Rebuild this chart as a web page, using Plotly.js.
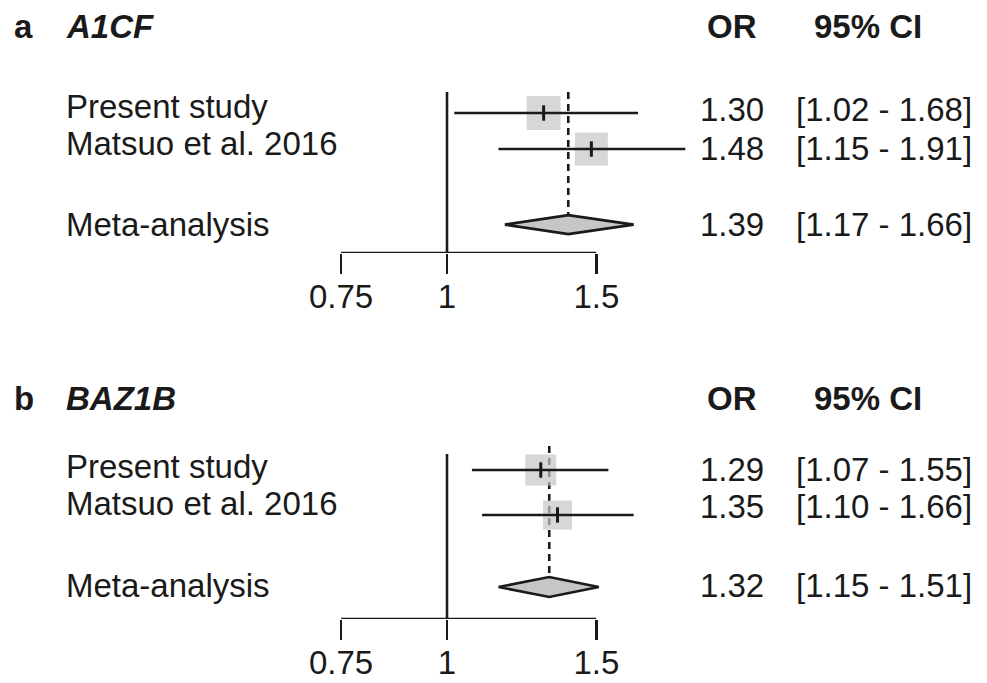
<!DOCTYPE html>
<html>
<head>
<meta charset="utf-8">
<script src="https://cdn.plot.ly/plotly-3.0.1.min.js"></script>
<style>html,body{margin:0;padding:0;background:#fff;}#chart{width:987px;height:683px;}</style>
</head>
<body>
<div id="chart"></div>
<script>
// ---- data ----
const studies = ['Present study', 'Matsuo et al. 2016', 'Meta-analysis'];
const panelLetters = ['a', 'b'];
const genes = ['A1CF', 'BAZ1B'];
const orA = [1.30, 1.48, 1.39];
const loA = [1.02, 1.15, 1.17];
const hiA = [1.68, 1.91, 1.66];
const orB = [1.29, 1.35, 1.32];
const loB = [1.07, 1.10, 1.15];
const hiB = [1.55, 1.66, 1.51];
const tickVals = [0.75, 1, 1.5];
const tickText = ['0.75', '1', '1.5'];

// ---- layout constants (pixels) ----
const W = 987, H = 683;
const INK = '#1a1a1a', GREY = '#c6c6c6';
const FONT = 'Liberation Sans, Arial, sans-serif';
const FS = 33;
const LW = 2.6;
const pxPerDecade = 848, nullPx = 447;
const xRange = [-nullPx / pxPerDecade, (W - nullPx) / pxPerDecade];

const panels = [
  { or: orA, lo: loA, hi: hiA, rows: [3, 2, -0.1], row0Px: 113, unit: 36,
    topPx: 92, nullTopPx: 92, axisPx: 253, diamondHalfPx: 9.5, boxSizes: [34, 33],
    headerPx: 26, labelPx: [106, 143.5, 225], valuePx: [109, 148, 225] },
  { or: orB, lo: loB, hi: hiB, rows: [3, 2, 0.4], row0Px: 470, unit: 45,
    topPx: 446, nullTopPx: 454, axisPx: 619, diamondHalfPx: 10, boxSizes: [31, 29],
    headerPx: 398, labelPx: [466, 503, 585], valuePx: [469, 506.5, 585] }
];

const traces = [];
const annotations = [];
const layout = {
  width: W, height: H,
  margin: { l: 0, r: 0, t: 0, b: 0 },
  paper_bgcolor: '#fff', plot_bgcolor: 'rgba(0,0,0,0)',
  showlegend: false,
  font: { family: FONT, size: FS, color: INK },
  annotations: annotations
};

function ann(text, xPx, yPx, extra) {
  annotations.push(Object.assign({
    text: text, xref: 'paper', yref: 'paper',
    x: (xPx - 3) / W, y: 1 - yPx / H, xanchor: 'left', yanchor: 'middle',
    showarrow: false, font: { family: FONT, size: FS, color: INK }
  }, extra || {}));
}

panels.forEach((p, i) => {
  const xa = i === 0 ? 'x' : 'x2', ya = i === 0 ? 'y' : 'y2';
  const yAt = px => p.rows[0] + (p.row0Px - px) / p.unit;
  const yTop = yAt(p.topPx), yBot = yAt(p.axisPx), yNullTop = yAt(p.nullTopPx);
  const dh = p.diamondHalfPx / p.unit;
  const nS = studies.length - 1; // individual studies
  const metaY = p.rows[nS];
  const metaOR = p.or[nS];

  const axKey = i === 0 ? 'xaxis' : 'xaxis2';
  const ayKey = i === 0 ? 'yaxis' : 'yaxis2';
  layout[axKey] = {
    domain: [0, 1], anchor: ya, type: 'log', range: xRange,
    tickmode: 'array', tickvals: tickVals, ticktext: tickText,
    ticks: 'outside', ticklen: 20, tickwidth: LW, tickcolor: INK,
    ticklabelstandoff: -6,
    showgrid: false, zeroline: false, showline: false,
    tickfont: { family: FONT, size: FS, color: INK }, fixedrange: true
  };
  layout[ayKey] = {
    domain: [1 - p.axisPx / H, 1 - p.topPx / H], anchor: xa,
    range: [yBot, yTop], visible: false, showgrid: false, zeroline: false, fixedrange: true
  };

  const base = { xaxis: xa, yaxis: ya, hoverinfo: 'skip', cliponaxis: false };

  // dashed meta-analysis line
  traces.push(Object.assign({}, base, {
    type: 'scatter', mode: 'lines', x: [metaOR, metaOR], y: [yTop, metaY + dh],
    line: { color: INK, width: LW, dash: '7px,5px' }
  }));
  // null line at OR = 1
  traces.push(Object.assign({}, base, {
    type: 'scatter', mode: 'lines', x: [tickVals[1], tickVals[1]], y: [yNullTop, yBot],
    line: { color: INK, width: LW }
  }));
  // axis line from first to last tick
  traces.push(Object.assign({}, base, {
    type: 'scatter', mode: 'lines', x: [tickVals[0], tickVals[tickVals.length - 1]], y: [yBot, yBot],
    line: { color: INK, width: LW }
  }));
  // boxes
  traces.push(Object.assign({}, base, {
    type: 'scatter', mode: 'markers',
    x: p.or.slice(0, nS), y: p.rows.slice(0, nS),
    marker: { symbol: 'square', size: p.boxSizes, color: GREY, line: { width: 0 } }
  }));
  // CI lines
  for (let k = 0; k < nS; k++) {
    traces.push(Object.assign({}, base, {
      type: 'scatter', mode: 'lines', x: [p.lo[k], p.hi[k]], y: [p.rows[k], p.rows[k]],
      line: { color: INK, width: LW }
    }));
  }
  // point estimate ticks
  traces.push(Object.assign({}, base, {
    type: 'scatter', mode: 'markers',
    x: p.or.slice(0, nS), y: p.rows.slice(0, nS),
    marker: { symbol: 'line-ns', size: 11, line: { color: INK, width: 3 } }
  }));
  // diamond
  traces.push(Object.assign({}, base, {
    type: 'scatter', mode: 'lines', fill: 'toself', fillcolor: GREY,
    x: [p.lo[nS], metaOR, p.hi[nS], metaOR, p.lo[nS]],
    y: [metaY, metaY + dh, metaY, metaY - dh, metaY],
    line: { color: INK, width: LW }
  }));

  // headers
  ann('<b>' + panelLetters[i] + '</b>', 15, p.headerPx);
  ann('<b><i>' + genes[i] + '</i></b>', 67, p.headerPx);
  ann('<b>OR</b>', 708, p.headerPx);
  ann('<b>95% CI</b>', 815, p.headerPx);
  // rows
  studies.forEach((s, k) => {
    ann(s, 67, p.labelPx[k]);
    ann(p.or[k].toFixed(2), 701, p.valuePx[k]);
    ann('[' + p.lo[k].toFixed(2) + ' - ' + p.hi[k].toFixed(2) + ']', 797, p.valuePx[k]);
  });
});

Plotly.newPlot('chart', traces, layout, { staticPlot: true, displayModeBar: false });
</script>
</body>
</html>
